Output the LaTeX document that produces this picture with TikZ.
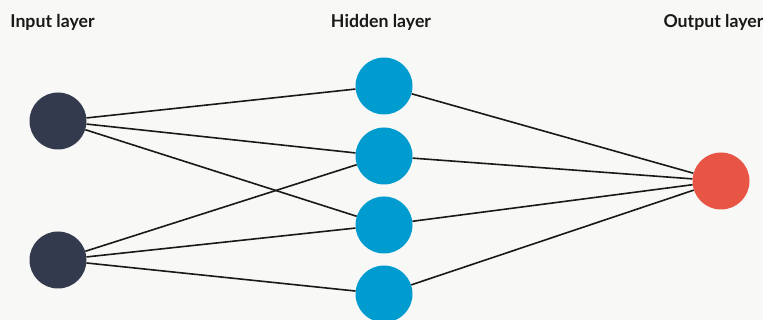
\documentclass[tikz,border=0pt]{standalone}
\usepackage{fontspec}
\setmainfont{Lato}
\usepackage{tikz}
\usetikzlibrary{positioning}
\definecolor{bgcol}{HTML}{F8F8F6}
\definecolor{incol}{HTML}{343A4E}
\definecolor{hidcol}{HTML}{009BCF}
\definecolor{outcol}{HTML}{E85545}
\begin{document}
\begin{tikzpicture}[x=1pt, y=-1pt,
  neuron/.style={circle, minimum size=57pt, inner sep=0pt},
  layerlabel/.style={anchor=base, font=\fontsize{17.7}{21}\selectfont\bfseries, text=black!90},
  conn/.style={line width=1.6pt, black!90}]
\fill[bgcol] (0,0) rectangle (763,320);
\useasboundingbox (0,0) rectangle (763,320);
%
\node[layerlabel] (linput)  at (52.5,27.5) {Input layer};
\node[layerlabel] (lhidden) at (381,27.5)  {Hidden layer};
\node[layerlabel, anchor=base west] (loutput) at (660,27.5) {Output layer};
%
\node[neuron, fill=incol] (i1) at (58,121) {};
\node[neuron, fill=incol] (i2) at (58,260) {};
\foreach \n/\y in {1/86, 2/156, 3/225, 4/294}
  \node[neuron, fill=hidcol] (h\n) at (384,\y) {};
\node[neuron, fill=outcol] (o) at (721,181) {};
%
\foreach \h in {1,2,3} \draw[conn] (i1) -- (h\h);
\foreach \h in {2,3,4} \draw[conn] (i2) -- (h\h);
\foreach \h in {1,...,4} \draw[conn] (h\h) -- (o);
%
\end{tikzpicture}
\end{document}
